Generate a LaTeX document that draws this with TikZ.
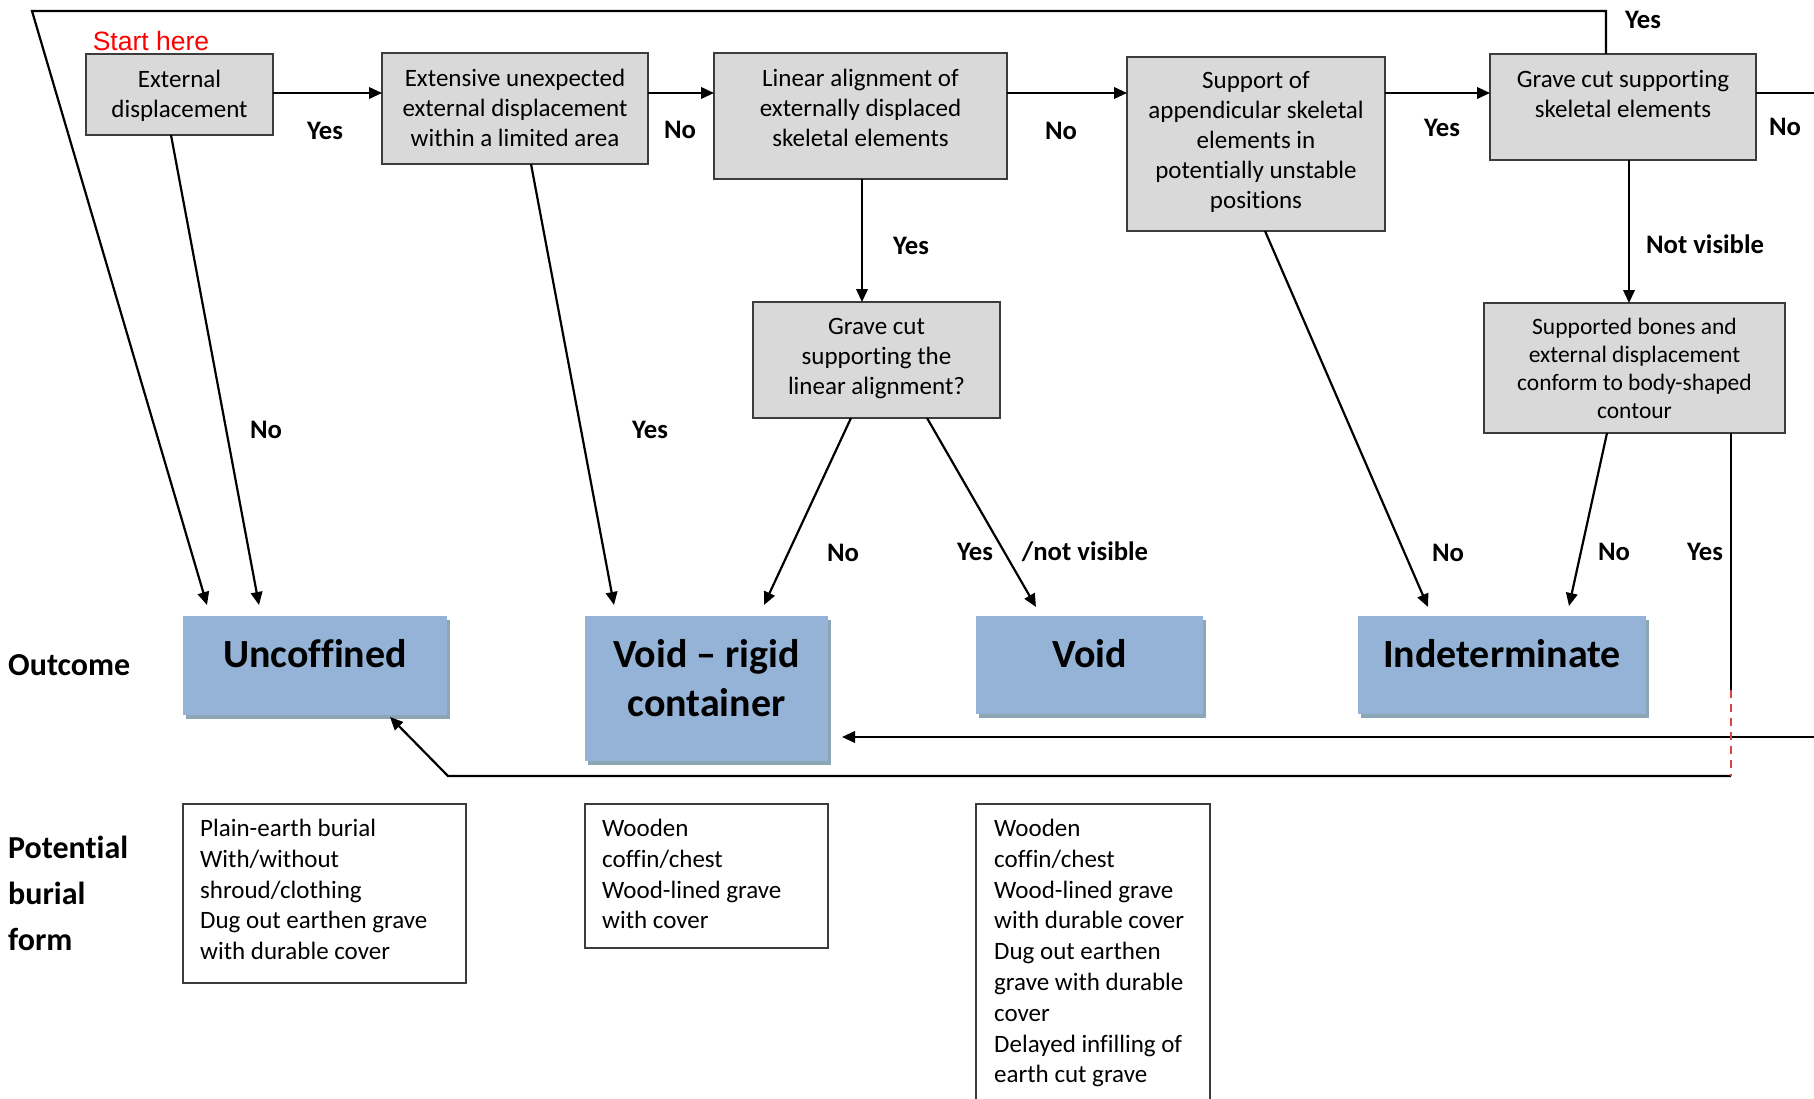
\documentclass[tikz,border=0pt]{standalone}
\usepackage{fontspec}
\setmainfont{Carlito}[Ligatures={TeX,NoCommon}]
\newfontfamily\arialfont{Liberation Sans}
\usetikzlibrary{arrows.meta,calc,shadows}
\definecolor{boxgray}{RGB}{217,217,217}
\definecolor{boxline}{RGB}{60,60,60}
\definecolor{outblue}{RGB}{149,179,215}
\definecolor{outshadow}{RGB}{140,166,181}
\definecolor{startred}{RGB}{255,0,0}
\definecolor{dashred}{RGB}{215,70,70}
\begin{document}
\begin{tikzpicture}[x=1pt,y=-1pt,
  gbox/.style={draw=boxline, fill=boxgray, line width=1.5pt, anchor=north west, inner sep=0pt, outer sep=0pt},
  gtext/.style={anchor=north, align=center, inner sep=0pt, font=\fontsize{25}{30}\selectfont},
  stext/.style={anchor=north, align=center, inner sep=0pt, font=\fontsize{23.5}{28}\selectfont},
  obox/.style={fill=outblue, anchor=north west, inner sep=0pt, outer sep=0pt,
    drop shadow={shadow xshift=3pt, shadow yshift=-4pt, fill=outshadow, opacity=1}},
  otext/.style={anchor=north, align=center, inner sep=0pt, font=\bfseries\fontsize{40}{49.5}\selectfont},
  pbox/.style={draw=boxline, line width=1.3pt, anchor=north west, inner sep=0pt, outer sep=0pt},
  ptext/.style={anchor=north west, align=left, inner sep=0pt, font=\fontsize{25}{30.8}\selectfont},
  lab/.style={font=\bfseries\fontsize{26.7}{30}\selectfont, inner sep=0pt},
  side/.style={anchor=west, align=left, inner sep=0pt, font=\bfseries\fontsize{32}{46}\selectfont},
  arr/.style={line width=2.2pt, -{Triangle[length=13pt,width=11.5pt]}},
  ln/.style={line width=2.2pt},
  reddash/.style={line width=2pt, draw=dashred, dash pattern=on 8pt off 6pt},
]
\useasboundingbox (0,0) rectangle (1814,1099);

% decision boxes
\node[gbox, minimum width=187pt, minimum height=81pt]  (b1) at (86,54) {};
\node[gbox, minimum width=266pt, minimum height=111pt] (b2) at (382,53) {};
\node[gbox, minimum width=293pt, minimum height=126pt] (b3) at (714,53) {};
\node[gbox, minimum width=258pt, minimum height=174pt] (b4) at (1127,57) {};
\node[gbox, minimum width=266pt, minimum height=106pt] (b5) at (1490,54) {};
\node[gbox, minimum width=247pt, minimum height=116pt] (b6) at (753,302) {};
\node[gbox, minimum width=301pt, minimum height=130pt] (b7) at (1484,303) {};

\node[gtext] (t1) at ([yshift=-16pt]b1.north) {External\\displacement};
\node[gtext] (t2) at ([yshift=-15.5pt]b2.north) {Extensive unexpected\\external displacement\\within a limited area};
\node[gtext] (t3) at ([yshift=-15.5pt]b3.north) {Linear alignment of\\externally displaced\\skeletal elements};
\node[gtext] (t4) at ([yshift=-14.5pt]b4.north) {Support of\\appendicular skeletal\\elements in\\potentially unstable\\positions};
\node[gtext] (t5) at ([yshift=-16.5pt]b5.north) {Grave cut supporting\\skeletal elements};
\node[gtext] (t6) at ([yshift=-16.5pt]b6.north) {Grave cut\\supporting the\\linear alignment?};
\node[stext] (t7) at ([yshift=-15pt]b7.north) {Supported bones and\\external displacement\\conform to body-shaped\\contour};

\node[font=\arialfont\fontsize{26.5}{30}\selectfont, text=startred, inner sep=0pt] (start) at (151,41) {Start here};

% outcome boxes
\node[obox, minimum width=264pt, minimum height=99pt]  (unc)  at (183,616) {};
\node[obox, minimum width=243pt, minimum height=145pt] (vr)   at (585,616) {};
\node[obox, minimum width=227pt, minimum height=98pt]  (void) at (976,616) {};
\node[obox, minimum width=288pt, minimum height=98pt]  (ind)  at (1358,616) {};

\node[otext] (tunc)  at ([yshift=-23pt]unc.north)  {Uncoffined};
\node[otext] (tvr)   at ([yshift=-23pt]vr.north)   {Void – rigid\\container};
\node[otext] (tvoid) at ([yshift=-23pt]void.north) {Void};
\node[otext] (tind)  at ([yshift=-23pt]ind.north)  {Indeterminate};

% potential burial form boxes
\node[pbox, minimum width=283pt, minimum height=179pt] (pa) at (183,804) {};
\node[pbox, minimum width=243pt, minimum height=144pt] (pb) at (585,804) {};
\node[pbox, minimum width=234pt, minimum height=298pt] (pc) at (976,804) {};

\node[ptext] (pta) at ($(pa.north west)+(17,15)$) {Plain-earth burial\\With/without\\shroud/clothing\\Dug out earthen grave\\with durable cover};
\node[ptext] (ptb) at ($(pb.north west)+(17,15)$) {Wooden\\coffin/chest\\Wood-lined grave\\with cover};
\node[ptext] (ptc) at ($(pc.north west)+(18,15)$) {Wooden\\coffin/chest\\Wood-lined grave\\with durable cover\\Dug out earthen\\grave with durable\\cover\\Delayed infilling of\\earth cut grave};

% side labels
\node[side] (oc) at (8,665) {Outcome};
\node[side] (pbf) at (8,893) {Potential\\burial\\form};

% helper coordinates
\coordinate (row) at (0,93);
\coordinate (tl) at (32,11);
\coordinate (redge) at (1825,93);
\coordinate (redge2) at (1825,737);
\coordinate (bl) at (448,776);
\coordinate (br) at (1731,776);
\coordinate (dashtop) at (1731,690);

% connectors
\draw[arr] (b1.east |- row) -- (b2.west |- row);
\draw[arr] (b2.east |- row) -- (b3.west |- row);
\draw[arr] (b3.east |- row) -- (b4.west |- row);
\draw[arr] (b4.east |- row) -- (b5.west |- row);
\draw[ln] (b5.east |- row) -- (redge);
\draw[arr] ([xshift=-17pt]b5.north) |- (tl) -- ($(unc.north west)+(24,-11)$);
\draw[arr] ([xshift=-8.5pt]b1.south) -- ($(unc.north west)+(76,-11)$);
\draw[arr] ([xshift=16pt]b2.south) -- ($(vr.north west)+(29,-11)$);
\draw[arr] ([xshift=1.5pt]b3.south) -- ([xshift=1.5pt]b3.south |- b6.north);
\draw[arr] ([xshift=-25.5pt]b6.south) -- ($(vr.north east)+(-64,-11)$);
\draw[arr] ([xshift=50.5pt]b6.south) -- ($(void.north west)+(60,-9)$);
\draw[arr] ([xshift=9pt]b4.south) -- ($(ind.north west)+(70,-9)$);
\draw[arr] ([xshift=6pt]b5.south) -- ([xshift=6pt]b5.south |- b7.north);
\draw[arr] ([xshift=-27.5pt]b7.south) -- ($(ind.north west)+(211,-10)$);
\draw[ln] ([xshift=96.5pt]b7.south) -- (dashtop);
\draw[arr] (redge2) -- ($(vr.east |- redge2)+(14,0)$);
\draw[arr] (br) -- (bl) -- ($(unc.south west)+(207,2)$);
\draw[reddash] (dashtop) -- (br);

% connector labels
\node[lab] (l1)  at (325,131) {Yes};
\node[lab] (l2)  at (680,130) {No};
\node[lab] (l3)  at (1061,131) {No};
\node[lab] (l4)  at (1442,128) {Yes};
\node[lab] (l5)  at (1785,127) {No};
\node[lab] (l6)  at (1643,20) {Yes};
\node[lab] (l7)  at (266,430) {No};
\node[lab] (l8)  at (650,430) {Yes};
\node[lab] (l9)  at (911,246) {Yes};
\node[lab] (l10) at (843,553) {No};
\node[lab] (l11) at (975,552) {Yes};
\node[lab] (l12) at (1085,552) {/not visible};
\node[lab] (l13) at (1448,553) {No};
\node[lab] (l14) at (1705,244) {Not visible};
\node[lab] (l15) at (1614,552) {No};
\node[lab] (l16) at (1705,552) {Yes};
\end{tikzpicture}
\end{document}
